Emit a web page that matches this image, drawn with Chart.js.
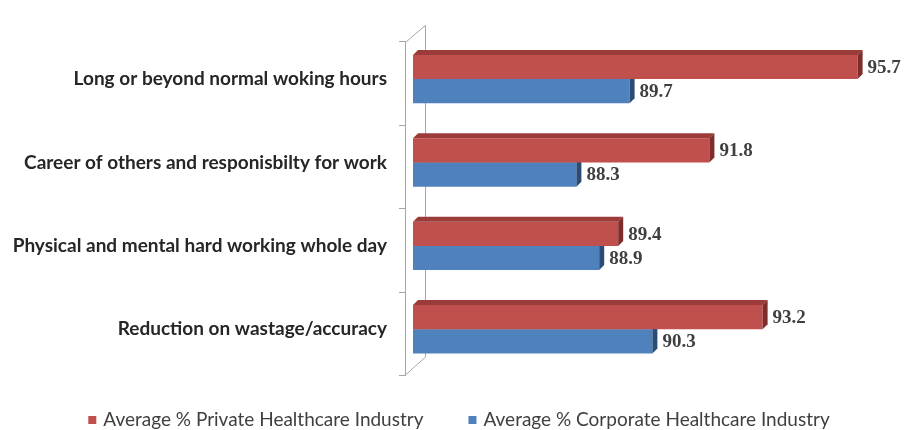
<!DOCTYPE html>
<html>
<head>
<meta charset="utf-8">
<script src="https://cdn.jsdelivr.net/npm/chart.js@4.4.0/dist/chart.umd.min.js"></script>
<style>
    html, body { margin: 0; padding: 0; background: #ffffff; }
    #wrap { width: 904px; height: 430px; }
</style>
</head>
<body>
<div id="wrap"><canvas id="chartContainerStress"></canvas></div>
<script>
const categories = [
    'Long or beyond normal woking hours',
    'Career of others and responisbilty for work',
    'Physical and mental hard working whole day',
    'Reduction on wastage/accuracy'
];
const seriesNames = [
    'Average % Private Healthcare Industry',
    'Average % Corporate Healthcare Industry'
];
const privateValues = [95.7, 91.8, 89.4, 93.2];
const corporateValues = [89.7, 88.3, 88.9, 90.3];
const axisMin = 84;
const axisMax = 96;

const faceColours = ['#c0504d', '#4f81bd'];
const topColours = ['#9b3c3a', '#3b6597'];
const sideColours = ['#7f2c2a', '#2a4c78'];
const depth = 5;

// extruded top and right faces so the bars look like slabs
const barSlabs = {
    id: 'barSlabs',
    afterDatasetDraw(chart, args) {
        const ctx = chart.ctx;
        const left = chart.chartArea.left;
        args.meta.data.forEach(bar => {
            const p = bar.getProps(['x', 'y', 'base', 'height'], true);
            const start = Math.max(p.base, left);
            const top = p.y - p.height / 2;
            const bottom = p.y + p.height / 2;
            ctx.save();
            ctx.fillStyle = topColours[args.index];
            ctx.beginPath();
            ctx.moveTo(start, top);
            ctx.lineTo(start + depth, top - depth);
            ctx.lineTo(p.x + depth, top - depth);
            ctx.lineTo(p.x, top);
            ctx.closePath();
            ctx.fill();
            ctx.fillStyle = sideColours[args.index];
            ctx.beginPath();
            ctx.moveTo(p.x, top);
            ctx.lineTo(p.x + depth, top - depth);
            ctx.lineTo(p.x + depth, bottom - depth);
            ctx.lineTo(p.x, bottom);
            ctx.closePath();
            ctx.fill();
            ctx.restore();
        });
    }
};

// the thin side wall the category axis sits on
const axisWall = {
    id: 'axisWall',
    beforeDatasetsDraw(chart) {
        const ctx = chart.ctx;
        const area = chart.chartArea;
        const yScale = chart.scales.y;
        const front = area.left - 8;
        const back = area.left + 12;
        const step = (area.bottom - area.top) / categories.length;
        ctx.save();
        ctx.strokeStyle = '#a6a6a6';
        ctx.lineWidth = 1;
        ctx.beginPath();
        ctx.moveTo(front + 0.5, area.top + 5);
        ctx.lineTo(front + 0.5, area.bottom + 4);
        ctx.lineTo(back + 0.5, area.bottom - 14);
        ctx.lineTo(back + 0.5, area.top - 12);
        ctx.lineTo(front + 0.5, area.top + 5);
        ctx.stroke();
        for (let i = 0; i <= categories.length; i++) {
            const yy = Math.round(yScale.getPixelForValue(0) - step / 2 + i * step + 4) + 0.5;
            ctx.beginPath();
            ctx.moveTo(front - 6, yy);
            ctx.lineTo(front + 1, yy);
            ctx.stroke();
        }
        ctx.restore();
    }
};

// value labels at the end of every bar, plus the legend row underneath
const labelsAndLegend = {
    id: 'labelsAndLegend',
    afterDatasetsDraw(chart) {
        const ctx = chart.ctx;
        ctx.save();
        ctx.font = 'bold 19px "Liberation Serif"';
        ctx.fillStyle = '#3f3f3f';
        ctx.textBaseline = 'middle';
        ctx.textAlign = 'left';
        chart.data.datasets.forEach((ds, di) => {
            chart.getDatasetMeta(di).data.forEach((bar, i) => {
                ctx.fillText(ds.data[i].toFixed(1), bar.x + 10, bar.y + 1);
            });
        });

        ctx.font = '19px Lato';
        const box = 8;
        const gap = 7;
        const between = 45;
        const widths = seriesNames.map(n => ctx.measureText(n).width);
        const total = widths.reduce((a, b) => a + b, 0) + 2 * (box + gap) + between;
        let x = chart.width / 2 + 7 - total / 2;
        const yMid = 420;
        seriesNames.forEach((name, i) => {
            ctx.fillStyle = faceColours[i];
            ctx.fillRect(x, yMid - box / 2, box, box);
            x += box + gap;
            ctx.fillStyle = '#404040';
            ctx.fillText(name, x, yMid);
            x += widths[i] + between;
        });
        ctx.restore();
    }
};

function initStressChart() {
    const canvas = document.getElementById('chartContainerStress');
    new Chart(canvas, {
        type: 'bar',
        data: {
            labels: categories,
            datasets: [
                {
                    label: seriesNames[0],
                    data: privateValues,
                    backgroundColor: faceColours[0],
                    borderWidth: 0,
                    barPercentage: 1,
                    categoryPercentage: 0.58
                },
                {
                    label: seriesNames[1],
                    data: corporateValues,
                    backgroundColor: faceColours[1],
                    borderWidth: 0,
                    barPercentage: 1,
                    categoryPercentage: 0.58
                }
            ]
        },
        options: {
            indexAxis: 'y',
            responsive: true,
            maintainAspectRatio: false,
            animation: false,
            layout: { padding: { top: 25, right: 35, bottom: 59, left: 0 } },
            plugins: {
                legend: { display: false },
                tooltip: { enabled: false }
            },
            scales: {
                x: {
                    display: false,
                    min: axisMin,
                    max: axisMax
                },
                y: {
                    grid: { display: false, drawTicks: false },
                    border: { display: false },
                    ticks: {
                        padding: 26,
                        color: '#262626',
                        font: { family: 'Lato', weight: 'bold', size: 19 }
                    },
                    afterFit(scale) {
                        scale.width = 413;
                    }
                }
            }
        },
        plugins: [axisWall, barSlabs, labelsAndLegend]
    });
}

window.addEventListener('load', initStressChart);
</script>
</body>
</html>
